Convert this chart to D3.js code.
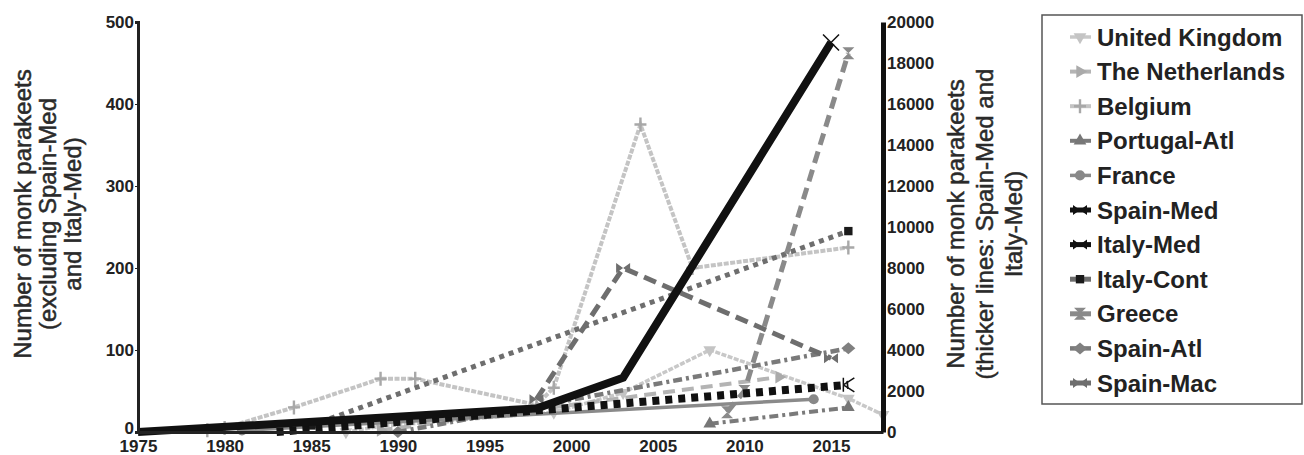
<!DOCTYPE html>
<html><head><meta charset="utf-8">
<script src="https://cdn.jsdelivr.net/npm/d3@7"></script>
<style>
body{margin:0;background:#fff;}
text{font-family:"Liberation Sans",Arial,sans-serif;}
</style></head>
<body><svg id="c" width="1304" height="455"></svg>
<script>
// ---- data ----
const seriesNames = ["United Kingdom","The Netherlands","Belgium","Portugal-Atl","France","Spain-Med","Italy-Med","Italy-Cont","Greece","Spain-Atl","Spain-Mac"];
const ukData = [[1987,0],[1989,7],[1999,24],[2003,48],[2008,100],[2016,41],[2018,21]];
const nlData = [[1989,2],[2012,67]];
const beData = [[1979,2],[1980,5],[1984,30],[1989,65],[1991,65],[1998,33],[1999,54],[2004,375],[2007,200],[2016,225]];
const ptData = [[2008,10],[2016,30]];
const frData = [[1981,2],[2014,40]];
const spMedData = [[1975,0],[1998,1150],[2003,2650],[2015,19000]];
const itMedData = [[1983,0],[2016,2300]];
const itContData = [[1985,8],[2016,245]];
const grData = [[2009,24],[2010,50],[2016,462]];
const spAtlData = [[1990,0],[2016,102]];
const spMacData = [[1998,40],[2003,200],[2015,90]];
const xTicks = [1975,1980,1985,1990,1995,2000,2005,2010,2015];
const yLeftTicks = [0,100,200,300,400,500];
const yRightTicks = [0,2000,4000,6000,8000,10000,12000,14000,16000,18000,20000];

const svg = d3.select("#c");
const x = d3.scaleLinear().domain([1975,2018]).range([138,883]);
const yL = d3.scaleLinear().domain([0,500]).range([432,22]);
const yR = d3.scaleLinear().domain([0,20000]).range([432,22]);

function sym(type){
  const s = 70;
  switch(type){
    case "tdown": case "tright": case "tup": return d3.symbol(d3.symbolTriangle, s)();
    case "circle": return d3.symbol(d3.symbolCircle, 80)();
    case "square": return d3.symbol(d3.symbolSquare, 70)();
    case "diamond": return "M0,-6L7,0L0,6L-7,0Z";
    case "plus": return "M-1.2,-7H1.2V-1.2H6V1.2H1.2V7H-1.2V1.2H-6V-1.2H-1.2Z";
    case "hour": return "M-6,-6L6,-6L0,0L6,6L-6,6L0,0Z";
    case "bow": return "M-7,-5L0,0L-7,5ZM7,-5L0,0L7,5Z";
    case "x": return "M-8,-8L8,8M-8,8L8,-8";
    case "k": return "M-5,-7L-5,7M-5,0L6,-7M-5,0L6,7";
  }
}
const rot = {tdown:180, tright:90, tup:0};

const series = [
  {name:seriesNames[0], data:ukData, axis:yL, color:"#c8c8c8", w:3.5, dash:"5,1.5", marker:"tdown", mcolor:"#c4c4c4"},
  {name:seriesNames[1], data:nlData, axis:yL, color:"#b4b4b4", w:4, dash:"12,7", marker:"tright", mcolor:"#aaaaaa"},
  {name:seriesNames[2], data:beData, axis:yL, color:"#c4c4c4", w:4, dash:"5,1.5", marker:"plus", mcolor:"#a8a8a8"},
  {name:seriesNames[3], data:ptData, axis:yL, color:"#7a7a7a", w:4, dash:"9,4,3,4", marker:"tup", mcolor:"#777777"},
  {name:seriesNames[4], data:frData, axis:yL, color:"#8a8a8a", w:3.5, dash:null, marker:"circle", mcolor:"#888888"},
  {name:seriesNames[5], data:spMedData, axis:yR, color:"#111111", w:8, dash:null, marker:"x", mcolor:"#111111", legend:"bow"},
  {name:seriesNames[6], data:itMedData, axis:yR, color:"#111111", w:8, dash:"7,6", marker:"k", mcolor:"#111111", legend:"bow"},
  {name:seriesNames[7], data:itContData, axis:yL, color:"#6e6e6e", w:5, dash:"5,5", marker:"square", mcolor:"#1a1a1a"},
  {name:seriesNames[8], data:grData, axis:yL, color:"#8a8a8a", w:5, dash:"12,7", marker:"hour", mcolor:"#8a8a8a"},
  {name:seriesNames[9], data:spAtlData, axis:yL, color:"#7a7a7a", w:4.5, dash:"9,4,3,4", marker:"diamond", mcolor:"#808080"},
  {name:seriesNames[10], data:spMacData, axis:yL, color:"#6e6e6e", w:5, dash:"13,7", marker:"bow", mcolor:"#6e6e6e"}
];

const order = [2,0,1,4,3,9,7,10,8,6,5];
order.forEach(i=>{
  const s = series[i];
  const line = d3.line().x(d=>x(d[0])).y(d=>s.axis(d[1]));
  const g = svg.append("g");
  g.append("path").attr("d", line(s.data)).attr("fill","none")
    .attr("stroke", s.color).attr("stroke-width", s.w)
    .attr("stroke-dasharray", s.dash).attr("stroke-linejoin","miter");
  const pts = (s.marker==="x"||s.marker==="k") ? s.data.slice(-1) : s.data;
  g.selectAll("path.m").data(pts).join("path").attr("class","m")
    .attr("d", sym(s.marker))
    .attr("transform", d=>`translate(${x(d[0])},${s.axis(d[1])}) rotate(${rot[s.marker]||0})`)
    .attr("fill", (s.marker==="x"||s.marker==="k")?"none":s.mcolor)
    .attr("stroke", (s.marker==="x"||s.marker==="k")?s.mcolor:"none")
    .attr("stroke-width", 1.5);
});

// axes
const tickFont = g => g.selectAll("text").attr("font-size",17).attr("font-weight","bold").attr("fill","#222");
const ax = svg.append("g").attr("transform","translate(0,432)")
  .call(d3.axisBottom(x).tickValues(xTicks).tickFormat(d3.format("d")).tickSize(0).tickPadding(8))
  .call(tickFont);
ax.select(".domain").attr("stroke","#222").attr("stroke-width",3);
const al = svg.append("g").attr("transform","translate(138,0)")
  .call(d3.axisLeft(yL).tickValues(yLeftTicks).tickSize(3).tickPadding(1))
  .call(tickFont);
al.select(".domain").attr("stroke","#222").attr("stroke-width",3);
al.selectAll(".tick line").attr("stroke","#222");
al.selectAll(".tick text").filter(d=>d===0).attr("dy","0.1em");
const ar = svg.append("g").attr("transform","translate(883,0)")
  .call(d3.axisRight(yR).tickValues(yRightTicks).tickFormat(d3.format("d")).tickSize(0).tickPadding(4))
  .call(tickFont);
ar.select(".domain").attr("stroke","#111").attr("stroke-width",5);

// axis titles
const leftTitle = ["Number of monk parakeets","(excluding Spain-Med","and Italy-Med)"];
const rightTitle = ["Number of monk parakeets","(thicker lines: Spain-Med and","Italy-Med)"];
leftTitle.forEach((t,i)=>{
  svg.append("text").attr("transform",`translate(${31+i*25},214) rotate(-90)`)
    .attr("text-anchor","middle").attr("font-size",24).attr("fill","#2a2a2a")
    .attr("stroke","#2a2a2a").attr("stroke-width",0.5).text(t);
});
rightTitle.forEach((t,i)=>{
  svg.append("text").attr("transform",`translate(${964+i*29},224) rotate(-90)`)
    .attr("text-anchor","middle").attr("font-size",24).attr("fill","#2a2a2a")
    .attr("stroke","#2a2a2a").attr("stroke-width",0.5).text(t);
});

// legend
svg.append("rect").attr("x",1042).attr("y",15).attr("width",260).attr("height",389)
  .attr("fill","#fff").attr("stroke","#555").attr("stroke-width",1.5);
series.forEach((s,i)=>{
  const cy = 37 + i*34.6;
  const g = svg.append("g");
  g.append("line").attr("x1",1070).attr("x2",1091).attr("y1",cy).attr("y2",cy)
    .attr("stroke",s.color).attr("stroke-width",Math.min(s.w,5));
  const m = s.legend || s.marker;
  g.append("path").attr("d", sym(m))
    .attr("transform",`translate(1080,${cy}) rotate(${rot[m]||0})`)
    .attr("fill", s.mcolor);
  g.append("text").attr("x",1097).attr("y",cy).attr("dy","0.36em")
    .attr("font-size",24).attr("font-weight","bold").attr("fill","#222").text(s.name);
});
</script></body></html>
